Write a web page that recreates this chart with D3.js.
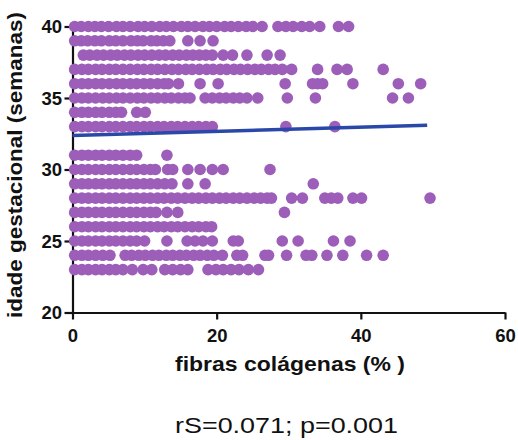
<!DOCTYPE html>
<html>
<head>
<meta charset="utf-8">
<script src="https://cdnjs.cloudflare.com/ajax/libs/d3/7.8.5/d3.min.js"></script>
<style>
  body { margin: 0; background: #fff; }
  .axis path, .axis line { stroke: #111; stroke-width: 2.2px; }
  .axis text { font-family: "Liberation Sans", Arial, sans-serif; font-weight: bold; font-size: 18.5px; fill: #111; }
</style>
</head>
<body>
<div class="scatter"></div>
<script>
// gestational weeks (one row of dots per week, 32 has none)
var weeks = [40, 39, 38, 37, 36, 35, 34, 33, 31, 30, 29, 28, 27, 26, 25, 24, 23];

// collagen fibre %
var w40 = [0.3, 1.2, 2.2, 3.1, 4.0, 5.0, 6.1, 7.0, 8.0, 9.1, 10.0, 11.0, 12.1, 13.0, 14.0, 15.1, 16.0, 17.0, 18.1, 19.0, 20.0, 21.1, 22.0, 23.0, 24.1, 25.0, 26.3, 28.5, 29.6, 30.6, 31.8, 32.9, 34.3, 36.9, 38.3];
var w39 = [0.3, 1.2, 2.1, 3.1, 4.0, 5.1, 6.0, 7.0, 8.1, 9.0, 9.8, 10.9, 11.7, 12.6, 13.5, 16.0, 17.7, 19.5];
var w38 = [1.5, 2.4, 3.4, 4.3, 5.3, 6.2, 7.2, 8.1, 9.1, 10.0, 11.0, 12.0, 12.9, 13.9, 14.8, 15.8, 16.7, 17.6, 18.5, 19.4, 20.9, 22.2, 24.2, 27.0, 28.8];
var w37 = [0.3, 1.3, 2.2, 3.2, 4.1, 5.1, 6.0, 7.0, 8.0, 9.0, 9.9, 10.9, 11.8, 12.8, 13.8, 14.7, 15.7, 16.6, 17.6, 18.6, 19.5, 20.5, 21.4, 22.4, 23.3, 24.3, 25.3, 26.2, 27.2, 28.1, 29.1, 30.4, 34.0, 36.7, 38.1, 43.1];
var w36 = [0.3, 1.3, 2.2, 3.2, 4.1, 5.1, 6.1, 7.0, 8.0, 8.9, 9.9, 10.8, 11.8, 12.7, 13.3, 14.7, 17.7, 20.2, 29.5, 33.3, 34.0, 34.7, 38.9, 45.2, 48.3];
var w35 = [0.3, 1.3, 2.2, 3.2, 4.2, 5.1, 6.1, 7.0, 8.0, 9.0, 9.9, 10.9, 11.8, 12.8, 13.7, 14.7, 15.6, 16.3, 18.4, 19.4, 20.4, 21.3, 22.3, 23.2, 24.2, 25.7, 29.8, 33.7, 44.4, 46.6];
var w34 = [0.3, 1.3, 2.2, 3.2, 4.1, 5.1, 6.0, 6.8, 8.9, 10.1];
var w33 = [0.3, 1.3, 2.2, 3.2, 4.1, 5.1, 6.0, 7.0, 8.0, 8.9, 9.9, 10.8, 11.8, 12.7, 13.7, 14.6, 15.6, 16.6, 17.5, 18.5, 19.4, 29.6, 36.4];
var w31 = [0.3, 1.3, 2.2, 3.2, 4.1, 5.1, 6.0, 7.0, 8.0, 8.9, 13.1];
var w30 = [0.3, 1.3, 2.2, 3.2, 4.1, 5.1, 6.0, 7.0, 8.0, 8.9, 9.9, 10.8, 11.5, 13.2, 13.9, 16.0, 17.7, 19.4, 20.9, 27.4];
var w29 = [0.3, 1.3, 2.2, 3.2, 4.1, 5.1, 6.0, 7.0, 8.0, 8.9, 9.9, 10.8, 11.8, 12.8, 13.8, 16.0, 18.4, 33.4];
var w28 = [0.3, 1.3, 2.2, 3.2, 4.1, 5.1, 6.0, 7.0, 8.0, 8.9, 9.9, 10.8, 11.8, 12.7, 13.7, 14.6, 15.6, 16.6, 17.5, 18.5, 19.4, 20.4, 21.3, 22.3, 23.2, 24.2, 25.2, 26.1, 27.0, 27.6, 30.4, 31.9, 35.0, 35.9, 36.8, 38.9, 40.1, 49.6];
var w27 = [0.3, 1.3, 2.2, 3.2, 4.1, 5.1, 6.0, 7.0, 8.0, 8.9, 9.9, 10.8, 11.6, 13.1, 14.6, 29.4];
var w26 = [0.3, 1.3, 2.2, 3.2, 4.1, 5.1, 6.0, 7.0, 8.0, 8.9, 9.9, 10.8, 11.8, 12.7, 13.7, 14.6, 15.6, 16.6, 17.5, 18.5, 19.3];
var w25 = [0.3, 1.3, 2.2, 3.2, 4.1, 5.1, 6.0, 7.0, 8.0, 8.9, 10.0, 13.1, 15.9, 17.0, 18.1, 19.4, 22.3, 23.0, 29.1, 31.3, 36.2, 38.5];
var w24 = [0.3, 1.3, 2.2, 3.2, 4.2, 5.2, 7.3, 8.2, 9.2, 10.1, 11.1, 12.0, 13.0, 13.9, 14.9, 15.8, 16.8, 17.7, 18.7, 19.6, 20.8, 22.8, 23.6, 26.7, 27.2, 29.7, 32.4, 33.2, 35.3, 37.5, 40.8, 43.1];
var w23 = [0.3, 1.3, 2.2, 3.2, 4.1, 5.1, 6.0, 7.0, 8.3, 9.8, 11.0, 12.8, 13.9, 15.0, 16.0, 18.8, 19.9, 20.9, 22.0, 23.1, 24.4, 25.8];

var rows = [w40, w39, w38, w37, w36, w35, w34, w33, w31, w30, w29, w28, w27, w26, w25, w24, w23];

// fitted line end points
var fitX = [0, 49.2];
var fitY = [32.38, 33.1];

var xTicks = [0, 20, 40, 60];
var yTicks = [20, 25, 30, 35, 40];

var svgWidth = 518;
var svgHeight = 440;

var svg = d3.select(".scatter")
  .append("svg")
  .attr("width", svgWidth)
  .attr("height", svgHeight);

var xScale = d3.scaleLinear().domain([0, 60]).range([72.5, 505]);
var yScale = d3.scaleLinear().domain([20, 40]).range([312.5, 26.5]);

// flatten rows into points
var points = [];
weeks.forEach(function(w, i) {
  rows[i].forEach(function(v) {
    points.push({ x: v, y: w });
  });
});

// axes
var xAxis = svg.append("g")
  .attr("class", "axis")
  .attr("transform", "translate(0," + yScale(20) + ")")
  .call(d3.axisBottom(xScale).tickValues(xTicks).tickSize(7).tickSizeOuter(0));
xAxis.selectAll("text").attr("y", 29).attr("dy", 0);

var yAxis = svg.append("g")
  .attr("class", "axis")
  .attr("transform", "translate(" + xScale(0) + ",0)")
  .call(d3.axisLeft(yScale).tickValues(yTicks).tickSize(8).tickSizeOuter(0));
yAxis.selectAll("text").attr("x", -10.5).attr("dy", "0.34em");

// dots
svg.append("g")
  .selectAll("circle")
  .data(points)
  .enter()
  .append("circle")
  .attr("cx", d => xScale(d.x))
  .attr("cy", d => yScale(d.y))
  .attr("r", 5.8)
  .attr("fill", "#9c5eb9");

// regression line
svg.append("line")
  .attr("x1", xScale(fitX[0]))
  .attr("y1", yScale(fitY[0]))
  .attr("x2", xScale(fitX[1]))
  .attr("y2", yScale(fitY[1]))
  .attr("stroke", "#2a48a8")
  .attr("stroke-width", 3.5);

// labels
svg.append("text")
  .attr("x", 175)
  .attr("y", 371)
  .attr("textLength", 230)
  .attr("lengthAdjust", "spacingAndGlyphs")
  .attr("font-family", "Liberation Sans, Arial, sans-serif")
  .attr("font-weight", "bold")
  .attr("font-size", "21px")
  .attr("fill", "#111")
  .text("fibras colágenas (% )");

svg.append("text")
  .attr("transform", "translate(22,318) rotate(-90)")
  .attr("x", 0)
  .attr("y", 0)
  .attr("textLength", 306)
  .attr("lengthAdjust", "spacingAndGlyphs")
  .attr("font-family", "Liberation Sans, Arial, sans-serif")
  .attr("font-weight", "bold")
  .attr("font-size", "21px")
  .attr("fill", "#111")
  .text("idade gestacional (semanas)");

svg.append("text")
  .attr("x", 175)
  .attr("y", 433)
  .attr("textLength", 223)
  .attr("lengthAdjust", "spacingAndGlyphs")
  .attr("font-family", "Liberation Sans, Arial, sans-serif")
  .attr("font-size", "22px")
  .attr("fill", "#111")
  .text("rS=0.071; p=0.001");
</script>
</body>
</html>
